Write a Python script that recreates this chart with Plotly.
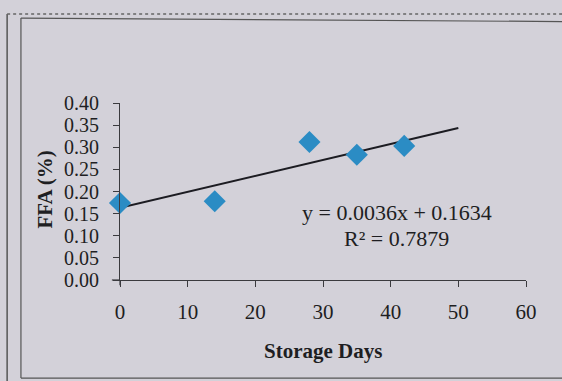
import plotly.graph_objects as go

# Storage trial: free fatty acid content over storage time
storage_days = [0, 14, 28, 35, 42]
ffa_percent = [0.174, 0.178, 0.312, 0.283, 0.303]

# Linear trendline reported for the series
slope = 0.0036
intercept = 0.1634
r_squared = 0.7879
trend_x = [0, 50]
trend_y = [intercept + slope * x for x in trend_x]

x_ticks = [0, 10, 20, 30, 40, 50, 60]
y_ticks = [0.00, 0.05, 0.10, 0.15, 0.20, 0.25, 0.30, 0.35, 0.40]

serif = "Liberation Serif, Times New Roman, serif"
bg = "#d3d1d9"
ink = "#3a3a3e"
text_col = "#1e1e22"

fig = go.Figure()
fig.add_trace(go.Scatter(
    x=trend_x, y=trend_y, mode="lines",
    line=dict(color="#1c1c22", width=2), showlegend=False,
))
fig.add_trace(go.Scatter(
    x=storage_days, y=ffa_percent, mode="markers",
    marker=dict(symbol="diamond", size=17, color="#2b8cc4"),
    showlegend=False, cliponaxis=False,
))

fig.update_layout(
    width=562, height=381,
    margin=dict(l=120, r=36, t=103, b=101),
    paper_bgcolor=bg, plot_bgcolor=bg,
    font=dict(family=serif, color=text_col, size=21),
    xaxis=dict(
        range=[0, 60], tickvals=x_ticks, ticktext=[str(v) for v in x_ticks],
        showgrid=False, zeroline=False, showline=True, linecolor=ink, linewidth=1.2,
        ticks="outside", ticklen=6, tickcolor=ink, ticklabelstandoff=7,
        tickfont=dict(size=21, family=serif, color=text_col),
    ),
    yaxis=dict(
        range=[0, 0.4], tickvals=y_ticks, ticktext=[f"{v:.2f}" for v in y_ticks],
        showgrid=False, zeroline=False, showline=True, linecolor=ink, linewidth=1.2,
        ticks="outside", ticklen=6, tickcolor=ink, ticklabelstandoff=10,
        tickfont=dict(size=20, family=serif, color=text_col),
    ),
    annotations=[
        dict(text="<b>Storage Days</b>", xref="paper", yref="paper",
             x=0.5, y=-0.40, xanchor="center", yanchor="middle", showarrow=False,
             font=dict(size=21, family=serif, color=text_col)),
        dict(text="<b>FFA (%)</b>", xref="paper", yref="paper",
             x=-0.185, y=0.51, xanchor="center", yanchor="middle", showarrow=False,
             textangle=-90, font=dict(size=21, family=serif, color=text_col)),
        dict(text=f"y = {slope:.4f}x + {intercept:.4f}", xref="paper", yref="paper",
             x=0.682, y=0.38, xanchor="center", yanchor="middle", showarrow=False,
             font=dict(size=22, family=serif, color=text_col)),
        dict(text=f"R² = {r_squared:.4f}", xref="paper", yref="paper",
             x=0.682, y=0.233, xanchor="center", yanchor="middle", showarrow=False,
             font=dict(size=22, family=serif, color=text_col)),
    ],
    shapes=[
        # small overhangs where the axes cross at the origin
        dict(type="line", xref="paper", yref="paper", x0=0, x1=0, y0=0, y1=-0.03,
             line=dict(color=ink, width=1.2)),
        dict(type="line", xref="paper", yref="paper", x0=0, x1=-0.02, y0=0, y1=0,
             line=dict(color=ink, width=1.2)),
        # outer page edge and dotted top rule
        dict(type="line", xref="paper", yref="paper", x0=-0.278, x1=-0.278, y0=1.503, y1=-0.57,
             line=dict(color="#555", width=1.5)),
        dict(type="line", xref="paper", yref="paper", x0=-0.278, x1=1.09, y0=1.503, y1=1.503,
             line=dict(color="#666", width=1.5, dash="dot")),
        # inner chart border
        dict(type="line", xref="paper", yref="paper", x0=-0.244, x1=-0.244, y0=1.48, y1=-0.554,
             line=dict(color="#555", width=1.2)),
        dict(type="line", xref="paper", yref="paper", x0=-0.244, x1=1.09, y0=1.48, y1=1.46,
             line=dict(color="#555", width=1.2)),
        dict(type="line", xref="paper", yref="paper", x0=-0.244, x1=1.09, y0=-0.554, y1=-0.554,
             line=dict(color="#555", width=1.2)),
    ],
)

fig.write_html("out.html")
